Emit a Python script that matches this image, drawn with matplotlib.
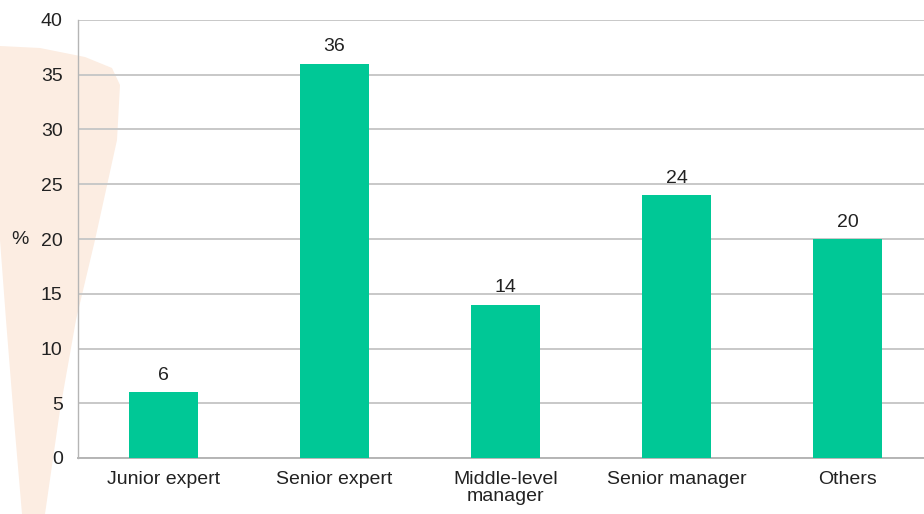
import matplotlib
matplotlib.use("Agg")
import matplotlib.pyplot as plt
from matplotlib.patches import Polygon

categories = ["Junior expert", "Senior expert", "Middle-level\nmanager", "Senior manager", "Others"]
shares = [6, 36, 14, 24, 20]
y_ticks = [0, 5, 10, 15, 20, 25, 30, 35, 40]

plt.rcParams["font.family"] = ["Liberation Sans", "DejaVu Sans"]
TEXT = "#222222"
FS = 14

W, H = 924, 514
fig = plt.figure(figsize=(W / 100, H / 100), dpi=100)
fig.patch.set_facecolor("white")

# background layer holding the decorative peach band on the left edge
bg = fig.add_axes([0, 0, 1, 1], zorder=-1)
bg.set_xlim(0, W)
bg.set_ylim(H, 0)
bg.axis("off")
band_px = [(0, 46), (40, 48), (85, 57), (112, 68), (120, 85), (117, 140),
           (95, 240), (76, 320), (60, 410), (45, 514), (22, 514), (14, 420),
           (6, 320), (0, 240)]
bg.add_patch(Polygon(band_px, closed=True, facecolor="#fcede2", edgecolor="none"))

ax_left, ax_right = 78, 933
ax_top, ax_bottom = 20, 458
ax = fig.add_axes([ax_left / W, 1 - ax_bottom / H,
                   (ax_right - ax_left) / W, (ax_bottom - ax_top) / H], zorder=1)
ax.patch.set_alpha(0)

x = range(len(categories))
bars = ax.bar(x, shares, width=0.40, color="#00c896", zorder=3)
for rect, v in zip(bars, shares):
    ax.annotate(f"{v}", (rect.get_x() + rect.get_width() / 2, v),
                xytext=(0, 6), textcoords="offset points",
                ha="center", va="bottom", fontsize=FS, color=TEXT)

ax.set_xlim(-0.5, len(categories) - 0.5)
ax.set_ylim(0, 40)
ax.set_yticks(y_ticks)
ax.set_xticks(list(x))
ax.set_xticklabels(categories, fontsize=FS, color=TEXT, linespacing=1.05)
ax.tick_params(axis="y", labelsize=FS, labelcolor=TEXT, length=0, pad=11)
ax.tick_params(axis="x", length=0, pad=9)

ax.yaxis.grid(True, color="#c8c8c8", linewidth=1.4, zorder=1)
ax.set_axisbelow(True)
for side in ("top", "right"):
    ax.spines[side].set_visible(False)
ax.spines["left"].set_color("#b5b5b5")
ax.spines["left"].set_linewidth(1.0)
ax.spines["bottom"].set_color("#b5b5b5")
ax.spines["bottom"].set_linewidth(1.4)

ax.set_ylabel("%", rotation=0, fontsize=FS, color=TEXT)
ax.yaxis.set_label_coords(-0.068, 0.5)
ax.yaxis.label.set_verticalalignment("center")
ax.yaxis.label.set_horizontalalignment("center")

fig.savefig("out.png", dpi=100)
